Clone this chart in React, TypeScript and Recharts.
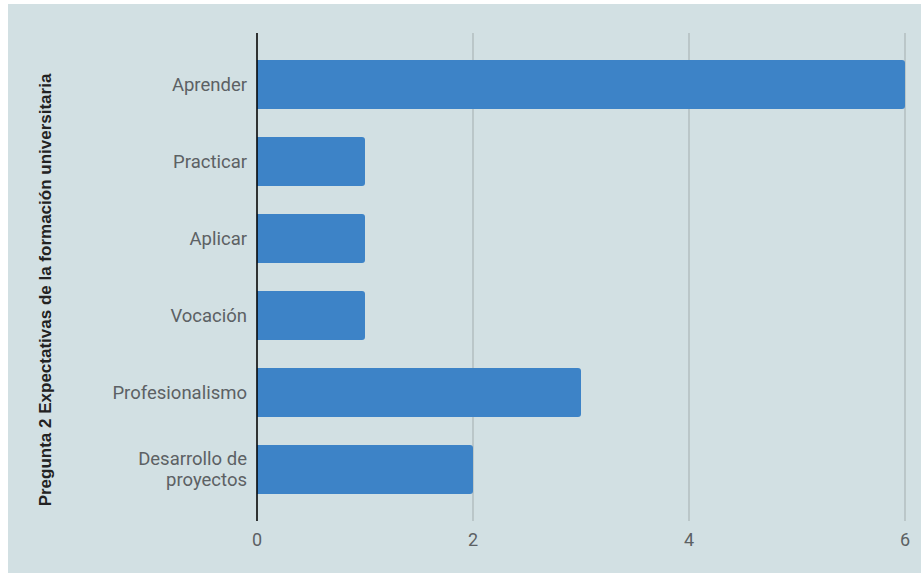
import React from "react"
import { BarChart, Bar, XAxis, YAxis, CartesianGrid, Label } from "recharts"

const categories = ["Aprender", "Practicar", "Aplicar", "Vocación", "Profesionalismo", "Desarrollo de proyectos"]
const counts = [6, 1, 1, 1, 3, 2]
const xTicks = [0, 2, 4, 6]
const yTitle = "Pregunta 2 Expectativas de la formación universitaria"

const data = categories.map((name, i) => ({ name, value: counts[i] }))

const BG = "#d2e0e3"
const BAR = "#3d83c7"
const TEXT = "#5c6164"

// wraps long category names onto two lines like the original
function CategoryTick(props: any) {
  const { x, y, payload } = props
  const label: string = payload.value
  const lines = label.length > 16 ? ["Desarrollo de", label.replace("Desarrollo de ", "")] : [label]
  const lh = 21
  const start = -((lines.length - 1) * lh) / 2
  return (
    <text x={x} y={y} textAnchor="end" fill={TEXT} fontSize={18.5} fontFamily="Roboto">
      {lines.map((l, i) => (
        <tspan key={i} x={x} y={y + start + i * lh} dy="0.35em">
          {l}
        </tspan>
      ))}
    </text>
  )
}

export default function App() {
  return (
    <div style={{ position: "absolute", left: 8, top: 4, width: 913, height: 569, background: BG }}>
      <BarChart
        width={913}
        height={569}
        data={data}
        layout="vertical"
        margin={{ top: 29, right: 16, bottom: 22, left: 0 }}
      >
        <CartesianGrid horizontal={false} stroke="#a3adae" strokeWidth={1} />
        <XAxis
          type="number"
          domain={[0, 6]}
          ticks={xTicks}
          axisLine={false}
          tickLine={false}
          tickSize={0}
          tickMargin={12}
          height={30}
          tick={{ fill: TEXT, fontSize: 18, fontFamily: "Roboto" }}
        />
        <YAxis
          type="category"
          dataKey="name"
          width={249}
          axisLine={{ stroke: "#000", strokeWidth: 1.5 }}
          tickLine={false}
          tickSize={0}
          tickMargin={10}
          padding={{ top: 13, bottom: 13 }}
          interval={0}
          tick={<CategoryTick />}
        >
          <Label
            content={() => (
              <text
                x={37}
                y={286}
                transform="rotate(-90 37 286)"
                textAnchor="middle"
                dominantBaseline="central"
                fontFamily="Liberation Sans, Arial, sans-serif"
                fontWeight="bold"
                fontSize={17}
                fill="#222"
              >
                {yTitle}
              </text>
            )}
          />
        </YAxis>
        <Bar dataKey="value" fill={BAR} barSize={49} radius={[0, 3, 3, 0]} isAnimationActive={false} />
      </BarChart>
    </div>
  )
}
